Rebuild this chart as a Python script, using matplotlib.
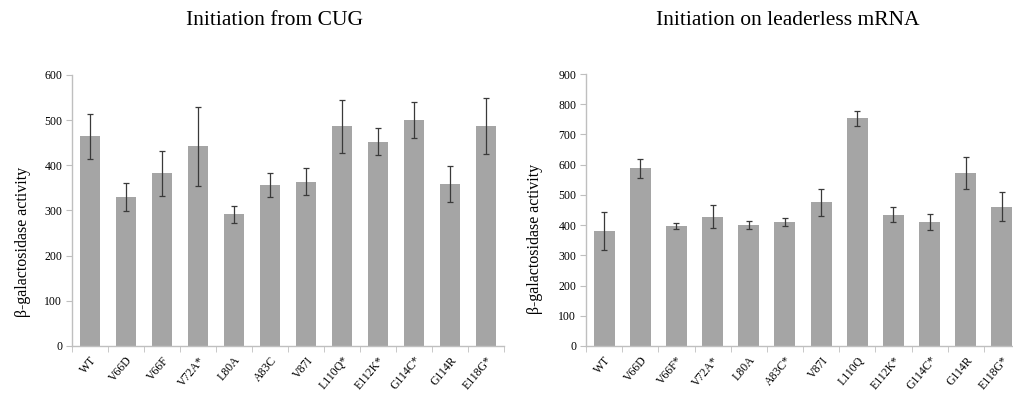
import numpy as np
import matplotlib.pyplot as plt

plt.rcParams['font.family'] = ['Liberation Serif', 'DejaVu Serif']

# left panel: initiation from CUG
cug_labels = ['WT', 'V66D', 'V66F', 'V72A*', 'L80A', 'A83C', 'V87I',
              'L110Q*', 'E112K*', 'G114C*', 'G114R', 'E118G*']
cug_vals = [464, 329, 382, 442, 292, 357, 364, 486, 452, 501, 359, 486]
cug_err = [50, 31, 50, 88, 19, 27, 30, 58, 30, 40, 40, 62]

# right panel: initiation on leaderless mRNA
ll_labels = ['WT', 'V66D', 'V66F*', 'V72A*', 'L80A', 'A83C*', 'V87I',
             'L110Q', 'E112K*', 'G114C*', 'G114R', 'E118G*']
ll_vals = [380, 588, 396, 427, 401, 410, 476, 754, 435, 410, 571, 461]
ll_err = [64, 32, 10, 38, 14, 12, 45, 25, 26, 26, 53, 48]

W, H = 1013, 399
fig = plt.figure(figsize=(W / 100, H / 100), dpi=100)

bar_color = '#A5A5A5'
spine_color = '#BFBFBF'


def panel(rect, labels, vals, err, ymax, ylabel_pos, title, title_x):
    ax = fig.add_axes(rect)
    x = np.arange(len(labels))
    ax.bar(x, vals, width=0.58, color=bar_color, zorder=2)
    ax.errorbar(x, vals, yerr=err, fmt='none', ecolor='#3a3a3a',
                elinewidth=0.9, capsize=2.5, capthick=0.9, zorder=3)
    ax.set_xlim(-0.5, len(labels) - 0.5)
    ax.set_ylim(0, ymax)
    ax.set_yticks(np.arange(0, ymax + 1, 100))
    ax.set_xticks(x)
    ax.set_xticklabels(labels, rotation=50, ha='right', va='top',
                       rotation_mode='anchor', fontsize=8.5)
    ax.set_xticks(np.arange(-0.5, len(labels)), minor=True)
    ax.tick_params(axis='x', which='major', length=0, pad=6)
    ax.tick_params(axis='x', which='minor', length=4, color=spine_color,
                   direction='out')
    ax.tick_params(axis='y', length=4, color=spine_color, labelsize=8.5,
                   pad=3)
    for s in ['top', 'right']:
        ax.spines[s].set_visible(False)
    for s in ['left', 'bottom']:
        ax.spines[s].set_color(spine_color)
        ax.spines[s].set_linewidth(1.0)
    fig.text(ylabel_pos[0] / W, 1 - ylabel_pos[1] / H,
             'β-galactosidase activity', rotation=90,
             ha='center', va='center', fontsize=11.5)
    fig.text(title_x / W, 1 - 25 / H, title, ha='center', va='baseline',
             fontsize=15.5)
    return ax


panel([72 / W, 53 / H, 432 / W, 271 / H], cug_labels, cug_vals, cug_err,
      600, (23, 242), 'Initiation from CUG', 274)
panel([586 / W, 53 / H, 434 / W, 272 / H], ll_labels, ll_vals, ll_err,
      900, (535, 239), 'Initiation on leaderless mRNA', 788)

fig.savefig('out.png', dpi=100)
